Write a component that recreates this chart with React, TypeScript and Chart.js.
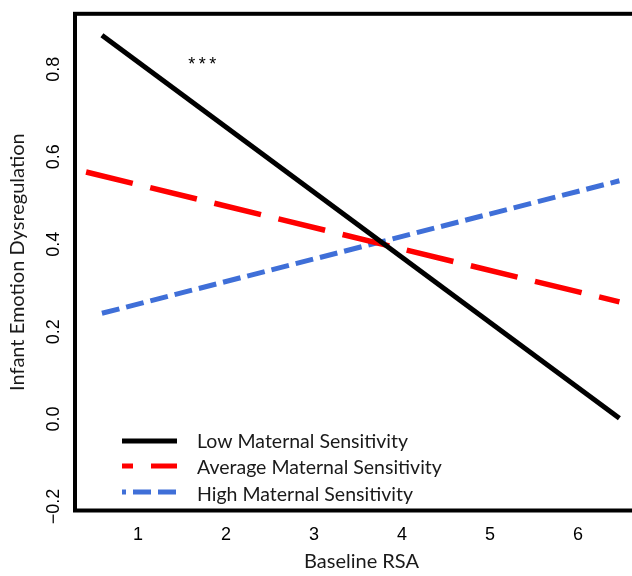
import React, { useEffect, useRef } from 'react';
import { Chart, registerables } from 'chart.js';

Chart.register(...registerables);

// ---- data ----
const seriesLabels = ['Low Maternal Sensitivity', 'Average Maternal Sensitivity', 'High Maternal Sensitivity'];
const lowX = [0.59, 6.47];
const lowY = [0.878, 0.002];
const avgX = [0.41, 6.47];
const avgY = [0.565, 0.268];
const highX = [0.59, 6.47];
const highY = [0.242, 0.545];
const xTicks = [1, 2, 3, 4, 5, 6];
const yTicks = [-0.2, 0, 0.2, 0.4, 0.6, 0.8];
const xTitle = 'Baseline RSA';
const yTitle = 'Infant Emotion Dysregulation';
const annotationText = '***';
const annotationX = 1.75;
const annotationY = 0.82;

const TICK_FONT = 'Liberation Sans, Arial, sans-serif';
const TEXT_FONT = 'Lato, sans-serif';

const toPoints = (xs: number[], ys: number[]) => xs.map((x, i) => ({ x, y: ys[i] }));

const legendDashOffsets = [0, 37, 14];
const legendLineY = [441, 466, 492];
const legendTextY = [447.5, 474, 500.5];

const overlayPlugin = {
  id: 'overlay',
  afterDraw(chart: any) {
    const { ctx, chartArea, scales } = chart;
    ctx.save();
    // box
    ctx.strokeStyle = '#000';
    ctx.lineWidth = 4;
    ctx.setLineDash([]);
    ctx.strokeRect(chartArea.left, chartArea.top, chartArea.right - chartArea.left, chartArea.bottom - chartArea.top);
    // annotation
    ctx.fillStyle = '#000';
    ctx.font = '18px ' + TICK_FONT;
    ctx.textAlign = 'center';
    ctx.textBaseline = 'middle';
    try { (ctx as any).letterSpacing = '3.5px'; } catch (e) {}
    ctx.fillText(annotationText, scales.x.getPixelForValue(annotationX), scales.y.getPixelForValue(annotationY) + 4);
    try { (ctx as any).letterSpacing = '0px'; } catch (e) {}
    // legend
    chart.data.datasets.forEach((ds: any, i: number) => {
      ctx.save();
      ctx.strokeStyle = ds.borderColor;
      ctx.lineWidth = 5;
      ctx.lineCap = 'butt';
      ctx.setLineDash(ds.borderDash || []);
      ctx.lineDashOffset = legendDashOffsets[i];
      ctx.beginPath();
      ctx.moveTo(122, legendLineY[i]);
      ctx.lineTo(177, legendLineY[i]);
      ctx.stroke();
      ctx.restore();
      ctx.fillStyle = '#1a1a1a';
      ctx.font = '19.5px ' + TEXT_FONT;
      ctx.textAlign = 'left';
      ctx.textBaseline = 'alphabetic';
      ctx.fillText(ds.label, 197, legendTextY[i]);
    });
    ctx.restore();
  },
};

export default function App() {
  const ref = useRef<HTMLCanvasElement>(null);

  useEffect(() => {
    if (!ref.current) return;
    const chart = new Chart(ref.current, {
      type: 'line',
      data: {
        datasets: [
          {
            label: seriesLabels[0],
            data: toPoints(lowX, lowY),
            borderColor: '#000000',
            borderWidth: 5,
            borderCapStyle: 'butt',
            pointRadius: 0,
          },
          {
            label: seriesLabels[1],
            data: toPoints(avgX, avgY),
            borderColor: '#ff0000',
            borderWidth: 5.5,
            borderDash: [48, 18],
            borderCapStyle: 'butt',
            pointRadius: 0,
          },
          {
            label: seriesLabels[2],
            data: toPoints(highX, highY),
            borderColor: '#3f6fd8',
            borderWidth: 5,
            borderDash: [18, 7],
            borderCapStyle: 'butt',
            pointRadius: 0,
          },
        ],
      },
      options: {
        responsive: false,
        animation: false,
        layout: { padding: { top: 13.5, left: 0, right: 0, bottom: 0 } },
        plugins: { legend: { display: false }, tooltip: { enabled: false } },
        scales: {
          x: {
            type: 'linear',
            min: 0.284,
            max: 6.795,
            afterBuildTicks: (s: any) => { s.ticks = xTicks.map((v) => ({ value: v })); },
            afterFit: (s: any) => { s.height = 65.5; },
            grid: { display: false, drawTicks: false },
            border: { display: false },
            ticks: {
              color: '#000',
              padding: 14,
              font: { family: TICK_FONT, size: 18 },
              maxRotation: 0,
              minRotation: 0,
              callback: (v: any) => String(v),
            },
            title: {
              display: true,
              text: xTitle,
              color: '#1a1a1a',
              font: { family: TEXT_FONT, size: 20 },
              padding: { top: 0, bottom: 2 },
            },
          },
          y: {
            type: 'linear',
            min: -0.2091,
            max: 0.9269,
            afterBuildTicks: (s: any) => { s.ticks = yTicks.map((v) => ({ value: v })); },
            afterFit: (s: any) => { s.width = 75; },
            grid: { display: false, drawTicks: false },
            border: { display: false },
            ticks: {
              color: '#000',
              padding: 3,
              crossAlign: 'center',
              minRotation: 90,
              maxRotation: 90,
              font: { family: TICK_FONT, size: 18 },
              callback: (v: any) => (v < 0 ? '\u2212' + Math.abs(v).toFixed(1) : Number(v).toFixed(1)),
            },
            title: {
              display: true,
              text: yTitle,
              color: '#1a1a1a',
              font: { family: TEXT_FONT, size: 20 },
              padding: { top: 6, bottom: 0 },
            },
          },
        },
      },
      plugins: [overlayPlugin],
    } as any);
    return () => chart.destroy();
  }, []);

  return (
    <div style={{ position: 'fixed', left: 0, top: 0, width: 632, height: 576, overflow: 'hidden', background: '#fff' }}>
      <canvas ref={ref} width={648} height={576} style={{ display: 'block', width: 648, height: 576 }} />
    </div>
  );
}
